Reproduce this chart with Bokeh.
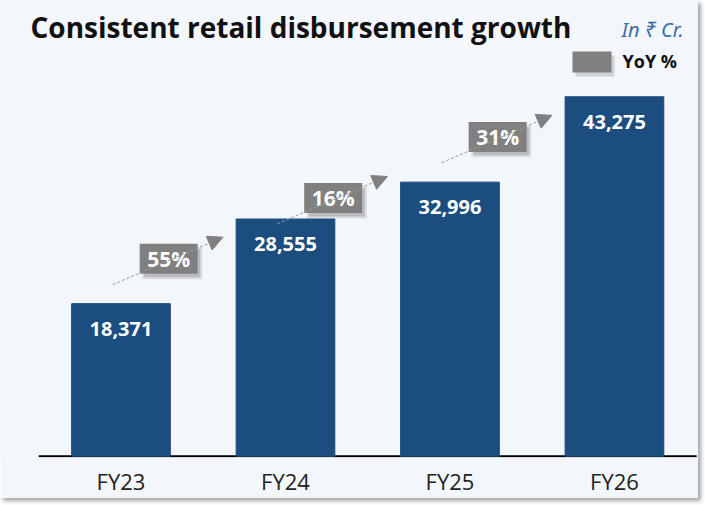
from bokeh.plotting import figure
from bokeh.models import (ColumnDataSource, Range1d, FixedTicker, Label, Arrow,
                          NormalHead, BoxAnnotation)
from bokeh.core.properties import value
from bokeh.embed import file_html
from bokeh.resources import INLINE

# ---- data ----
categories = ["FY23", "FY24", "FY25", "FY26"]
disbursement = [18371, 28555, 32996, 43275]
bar_labels = ["18,371", "28,555", "32,996", "43,275"]
yoy_labels = ["55%", "16%", "31%"]

BG = "#F3F6FB"
BAR = "#1B4E7E"
GREY = "#808080"
FONT = "Open Sans"

n = len(categories)
xs = list(range(n))
bar_src = ColumnDataSource(dict(x=xs, top=disbursement, lab=bar_labels))

mids = [(disbursement[i] + disbursement[i + 1]) / 2 for i in range(len(yoy_labels))]
arrow_src = ColumnDataSource(dict(
    x0=[i - 0.05 for i in range(len(yoy_labels))],
    x1=[i + 0.62 for i in range(len(yoy_labels))],
    y0=[m - 2800 for m in mids],
    y1=[m + 2900 for m in mids],
))
box_src = ColumnDataSource(dict(
    x=[i + 0.29 for i in range(len(yoy_labels))],
    y=[m + 300 for m in mids],
    sx=[i + 0.29 + 0.022 for i in range(len(yoy_labels))],
    sy=[m + 300 - 520 for m in mids],
    lab=yoy_labels,
))

p = figure(width=698, height=498, output_backend="svg", toolbar_location=None,
           x_range=Range1d(-0.7325, n - 0.489), y_range=Range1d(-150, 54860),
           min_border_left=0, min_border_right=0, min_border_top=0, min_border_bottom=41)
p.background_fill_color = BG
p.border_fill_color = BG
p.outline_line_color = None
p.grid.visible = False
p.yaxis.visible = False
p.styles = {"box-shadow": "3px 3px 4px rgba(0,0,0,0.35)"}

xa = p.xaxis[0]
xa.ticker = FixedTicker(ticks=xs)
xa.major_label_overrides = {i: c for i, c in enumerate(categories)}
xa.major_tick_line_color = None
xa.major_tick_out = 0
xa.major_tick_in = 0
xa.minor_tick_line_color = None
xa.axis_line_color = None
xa.major_label_standoff = 8
xa.major_label_text_font = FONT
xa.major_label_text_font_size = "22px"
xa.major_label_text_color = "#222222"

# baseline
p.segment(x0=[-0.5], x1=[n - 0.5], y0=[0], y1=[0], line_color="black", line_width=2)

p.vbar(x="x", top="top", width=0.6, bottom=0, source=bar_src,
       fill_color=BAR, line_color=BAR)
p.text(x="x", y="top", text="lab", source=bar_src, y_offset=25,
       text_align="center", text_baseline="middle", text_color="white",
       text_font=value(FONT), text_font_style="bold", text_font_size="20px")

p.add_layout(Arrow(x_start="x0", y_start="y0", x_end="x1", y_end="y1", source=arrow_src,
                   line_color="#9a9a9a", line_width=1, line_dash="3 2",
                   end=NormalHead(size=15, fill_color=GREY, line_color=GREY)))

# box shadows
p.rect(x="sx", y="sy", width=60, height=32, width_units="screen", height_units="screen",
       source=box_src, fill_color="black", fill_alpha=0.10, line_color=None)
p.rect(x="sx", y="sy", width=56, height=28, width_units="screen", height_units="screen",
       source=box_src, fill_color="black", fill_alpha=0.15, line_color=None)
p.rect(x="x", y="y", width=58, height=30, width_units="screen", height_units="screen",
       source=box_src, fill_color=GREY, line_color=None)
p.text(x="x", y="y", text="lab", source=box_src, text_align="center",
       text_baseline="middle", text_color="white", text_font=value(FONT),
       text_font_style="bold", text_font_size="21px")

# title and notes
p.add_layout(Label(x=30, y=431, x_units="screen", y_units="screen",
                   text="Consistent retail disbursement growth", text_font=FONT,
                   text_font_style="bold", text_font_size="28px", text_color="#111111",
                   text_baseline="alphabetic"))
p.add_layout(Label(x=683, y=428, x_units="screen", y_units="screen",
                   text="In ₹ Cr.", text_font="Noto Sans", text_font_style="italic",
                   text_font_size="20px", text_color="#3A6EA5", text_align="right",
                   text_baseline="alphabetic"))
# legend
p.add_layout(BoxAnnotation(left=575, right=614, bottom=381, top=402,
                           left_units="screen", right_units="screen",
                           bottom_units="screen", top_units="screen",
                           fill_color="black", fill_alpha=0.15, line_color=None))
p.add_layout(BoxAnnotation(left=572, right=611, bottom=385, top=406,
                           left_units="screen", right_units="screen",
                           bottom_units="screen", top_units="screen",
                           fill_color=GREY, fill_alpha=1, line_color=None))
p.add_layout(Label(x=622, y=397, x_units="screen", y_units="screen",
                   text="YoY %", text_font=FONT, text_font_style="bold",
                   text_font_size="18px", text_color="#111111",
                   text_baseline="alphabetic"))

open("out.html", "w").write(file_html(p, INLINE))
